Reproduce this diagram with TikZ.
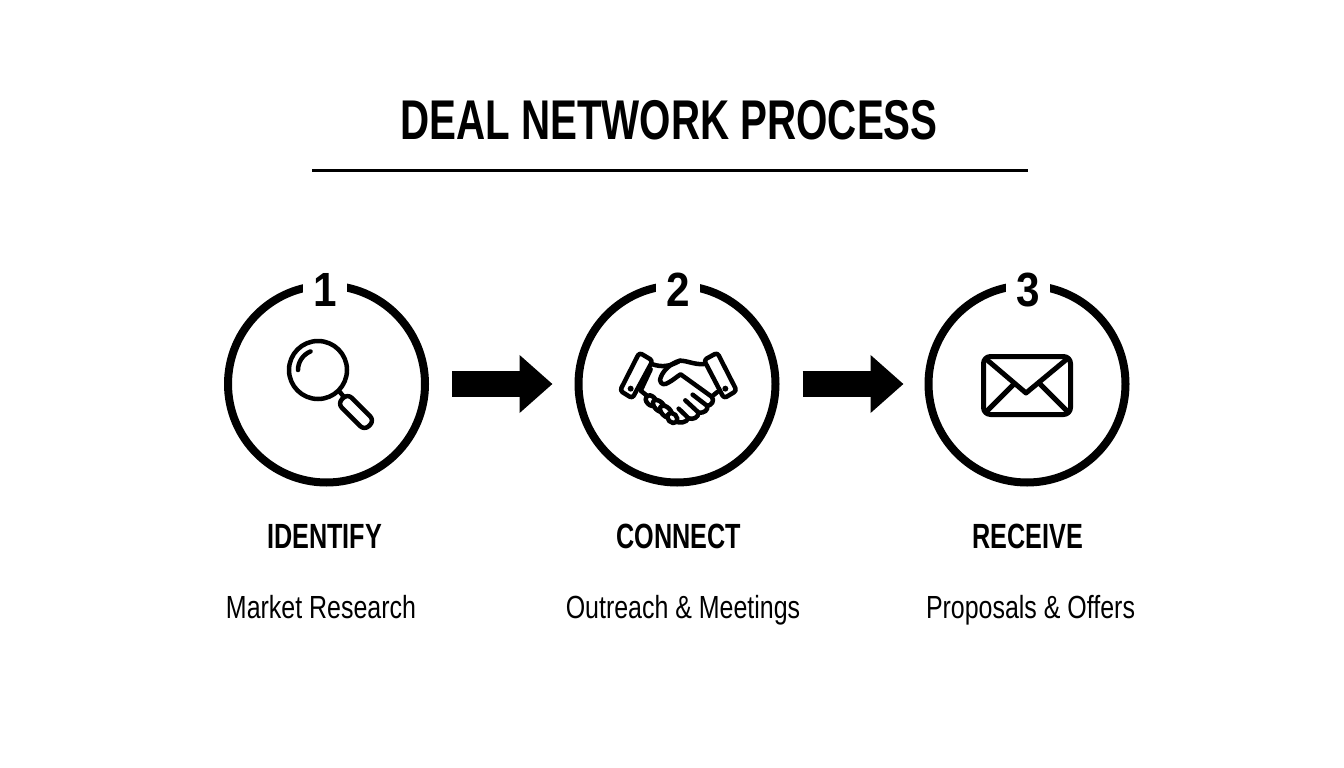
\documentclass[tikz,border=0pt]{standalone}
\usepackage{fontspec}
\usepackage{tikz}
\usetikzlibrary{arrows.meta}
\setmainfont{Liberation Sans}
\newfontfamily\titlefont[FakeStretch=0.72]{Liberation Sans Bold}
\newfontfamily\numfont[FakeStretch=0.88]{Liberation Sans Bold}
\newfontfamily\namefont[FakeStretch=0.72]{Liberation Sans Bold}
\newfontfamily\bodyfont[FakeStretch=0.78]{Liberation Sans}
\tikzset{
	stepcircle/.style={circle,draw,line width=8pt,minimum size=197pt,inner sep=0pt},
	stepnumber/.style={fill=white,inner sep=0pt,minimum width=44pt,minimum height=30pt,font=\numfont\fontsize{48}{48}\selectfont},
	stepname/.style={anchor=base,font=\namefont\fontsize{35}{35}\selectfont},
	stepnote/.style={anchor=base,font=\bodyfont\fontsize{32}{32}\selectfont},
	blockarrow/.style={line width=26pt,-{Triangle[length=33pt,width=56pt]}},
	iconline/.style={line width=4.5pt,line join=round,line cap=round},
	knuckle/.style={iconline,fill=white},
}
\begin{document}
\begin{tikzpicture}[x=1pt,y=-1pt]
	\useasboundingbox (0,0) rectangle (1344,768);

	\node[anchor=base,font=\titlefont\fontsize{56}{56}\selectfont] (title) at (669,139) {DEAL NETWORK PROCESS};
	\coordinate (ruleleft) at (312,170);
	\coordinate (ruleright) at (1028,170);
	\draw[line width=3pt] (ruleleft)--(ruleright);

	\node[stepcircle] (identify) at (326.5,384) {};
	\node[stepcircle] (connect) at (677,384) {};
	\node[stepcircle] (receive) at (1027,384) {};

	\node[stepnumber] (numone) at (325,290) {1};
	\node[stepnumber] (numtwo) at (678,290) {2};
	\node[stepnumber] (numthree) at (1028,290) {3};

	\draw[blockarrow] ([xshift=23pt]identify.east)--([xshift=-22pt]connect.west);
	\draw[blockarrow] ([xshift=23pt]connect.east)--([xshift=-21pt]receive.west);

	\node[stepname] (nameone) at (324.5,548) {IDENTIFY};
	\node[stepname] (nametwo) at (679,548) {CONNECT};
	\node[stepname] (namethree) at (1028,548) {RECEIVE};

	\node[stepnote] (noteone) at (321,618) {Market Research};
	\node[stepnote] (notetwo) at (683,618) {Outreach \& Meetings};
	\node[stepnote] (notethree) at (1030.5,618) {Proposals \& Offers};

	\draw[iconline] (318,370) circle (29pt);
	\draw[iconline] (298,370) arc (180:112:20pt);
	\draw[iconline] (339,391)--(344,397);
	\draw[iconline,rounded corners=6pt,rotate around={-45:(356,412)}] (337,405) rectangle (375,419);

	\draw[iconline,line width=5pt,rounded corners=7pt] (983.5,356.5) rectangle (1070.5,414.5);
	\draw[iconline,line width=5pt] (986,359)--(1026,393)--(1067,359);
	\draw[iconline,line width=5pt] (986,412)--(1014,384);
	\draw[iconline,line width=5pt] (1068,412)--(1040,384);

	\begin{scope}[shift={(600,330)},x=0.3333pt,y=-0.3333pt]
		\draw[iconline,rounded corners=3pt] (118,68)--(158,92)--(97,205)--(60,182)--cycle;
		\draw[iconline,rounded corners=3pt] (312,90)--(352,68)--(410,182)--(372,205)--cycle;
		\fill (92,176) circle (9);
		\fill (376,176) circle (9);
		\draw[iconline] (158,103)..controls (185,112) and (210,110)..(240,92)..controls (262,92) and (285,105)..(312,102);
		\draw[iconline] (240,92)..controls (210,100) and (185,125)..(180,150)..controls (182,165) and (195,165)..(205,158)..controls (220,150) and (230,140)..(242,133)--(335,200)..controls (345,212) and (335,225)..(322,228);
		\draw[iconline] (335,200)--(352,186);
		\draw[iconline] (278,194)--(322,228)..controls (325,240) and (312,250)..(296,248)--(256,211);
		\draw[iconline] (296,248)..controls (295,262) and (280,270)..(266,265)--(236,236);
		\draw[iconline] (266,265)..controls (258,278) and (240,282)..(222,272);
		\draw[iconline] (152,118)--(122,182)--(142,198);
		\draw[knuckle,rotate around={-45:(153,212)}] (153,212) ellipse (19 and 13);
		\draw[knuckle,rotate around={-45:(177,228)}] (177,228) ellipse (22 and 13);
		\draw[knuckle,rotate around={-45:(198,245)}] (198,245) ellipse (22 and 13);
		\draw[knuckle,rotate around={-45:(217,264)}] (217,264) ellipse (17 and 13);
	\end{scope}
\end{tikzpicture}
\end{document}
